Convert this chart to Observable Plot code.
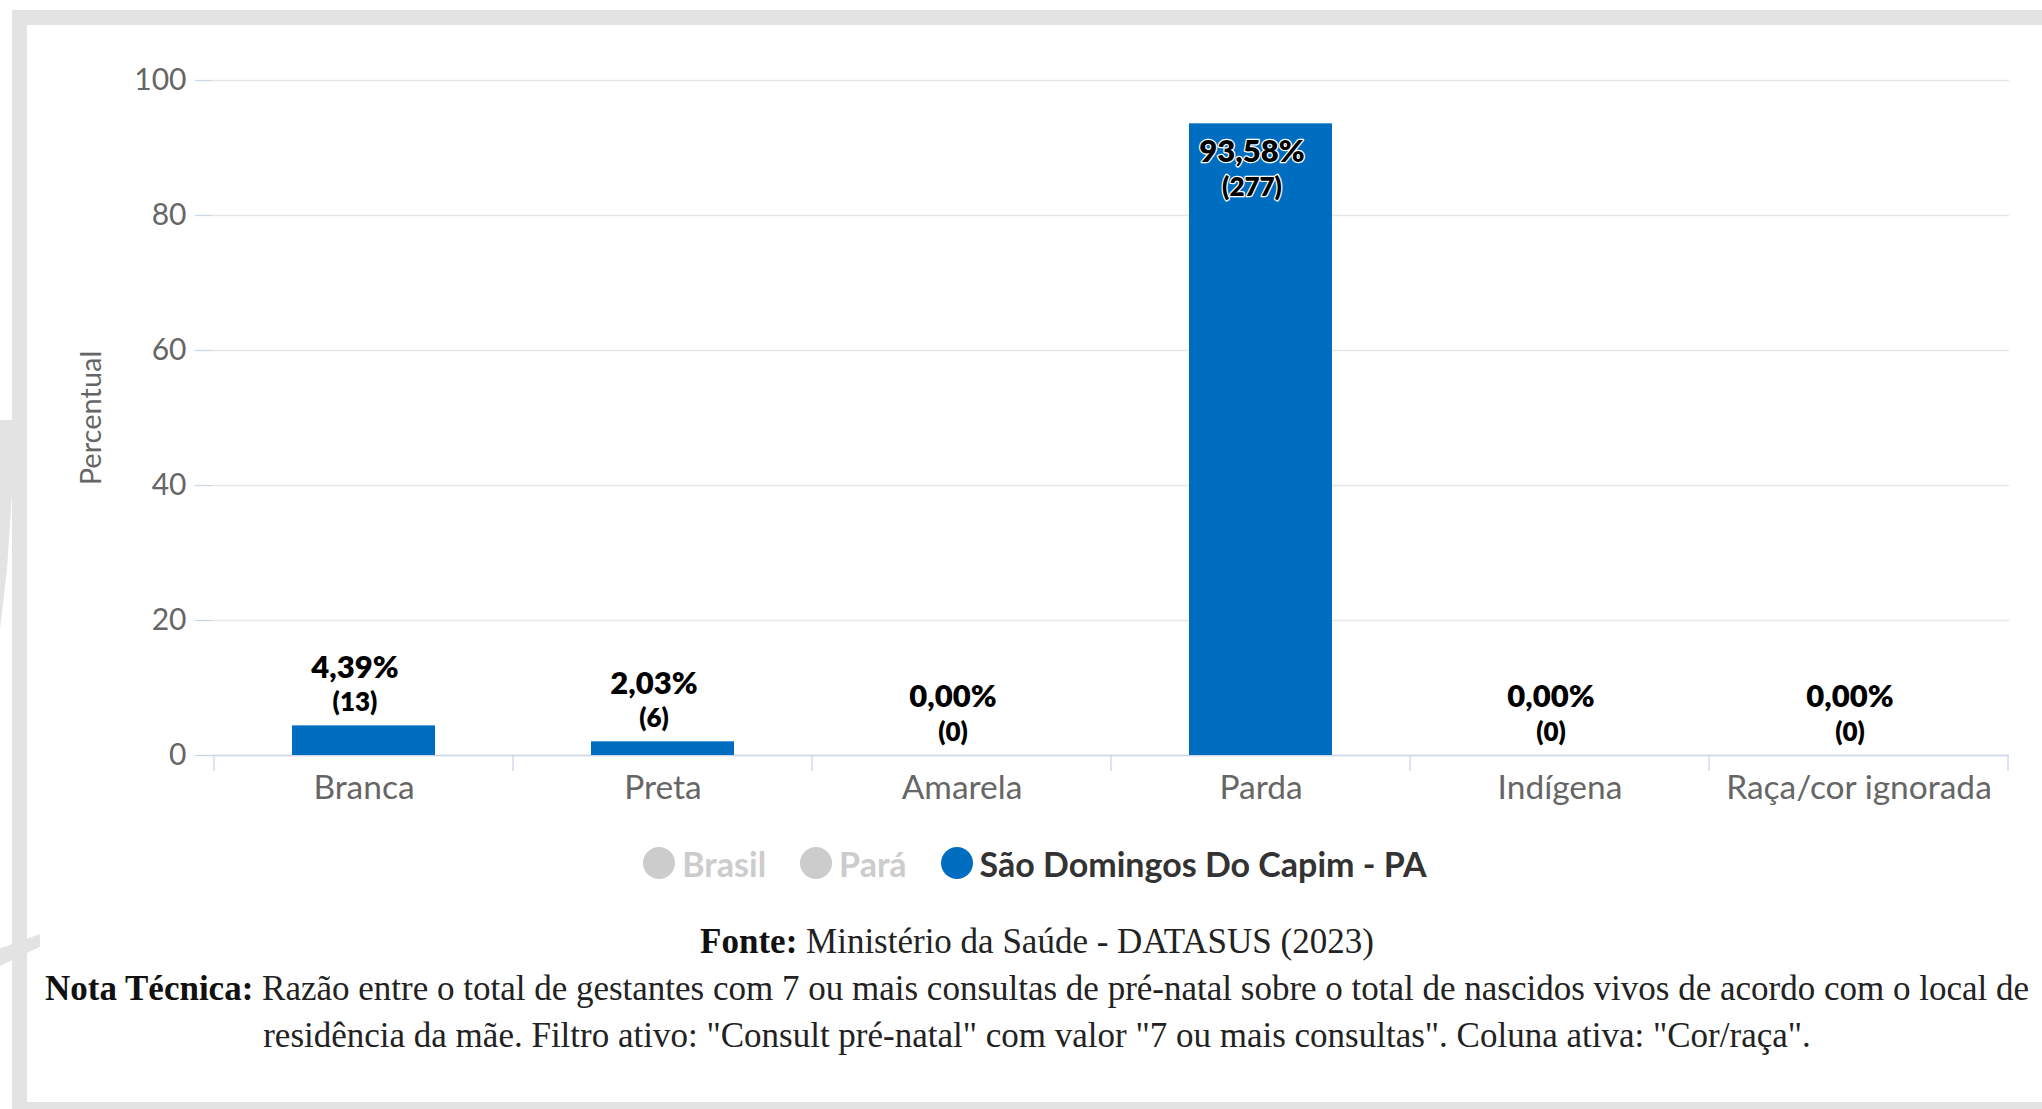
<!DOCTYPE html>
<html>
<head>
<meta charset="utf-8">
<script src="https://cdn.jsdelivr.net/npm/d3@7"></script>
<script src="https://cdn.jsdelivr.net/npm/@observablehq/plot@0.6"></script>
<style>
  html, body { margin: 0; padding: 0; background: #fff; }
  body { width: 2042px; height: 1109px; overflow: hidden; position: relative; font-family: Lato, sans-serif; }
  .frame { position: absolute; background: #e3e3e3; }
  #chart { position: absolute; left: 27px; top: 25px; }
  #legend { position: absolute; left: 0; width: 2070px; top: 845px; height: 36px; display: flex; justify-content: center; align-items: center; }
  .item { display: flex; align-items: center; margin: 0 17px; font-weight: 700; font-size: 34px; }
  .sym { width: 32px; height: 32px; border-radius: 50%; margin-right: 7px; }
  #caption { position: absolute; left: 20px; width: 2034px; top: 918px; text-align: center; font-family: "Liberation Serif", serif; font-size: 35px; line-height: 47px; color: #222; }
  #caption b { color: #111; }
</style>
</head>
<body>
<div class="frame" style="left:12px;top:10px;width:2030px;height:15px"></div>
<div class="frame" style="left:12px;top:10px;width:15px;height:1099px"></div>
<div class="frame" style="left:12px;top:1102px;width:2030px;height:7px"></div>
<div class="frame" style="left:0;top:420px;width:12px;height:210px;clip-path:polygon(0 0,100% 0,100% 35%,60% 70%,0 100%)"></div>
<div class="frame" style="left:0;top:934px;width:40px;height:32px;clip-path:polygon(0 45%,100% 0,100% 40%,0 100%)"></div>
<div id="chart"></div>
<div id="legend"></div>
<div id="caption"></div>
<script>
const categories = ["Branca", "Preta", "Amarela", "Parda", "Indígena", "Raça/cor ignorada"];
const percentages = [4.39, 2.03, 0.00, 93.58, 0.00, 0.00];
const counts = [13, 6, 0, 277, 0, 0];
const yTicks = [0, 20, 40, 60, 80, 100];
const seriesNames = ["Brasil", "Pará", "São Domingos Do Capim - PA"];
const seriesVisible = [false, false, true];
const sourceText = "Ministério da Saúde - DATASUS (2023)";
const noteText = "Razão entre o total de gestantes com 7 ou mais consultas de pré-natal sobre o total de nascidos vivos de acordo com o local de residência da mãe. Filtro ativo: \"Consult pré-natal\" com valor \"7 ou mais consultas\". Coluna ativa: \"Cor/raça\".";

const data = categories.map((c, i) => ({cat: c, pct: percentages[i], n: counts[i]}));
const fmtPct = v => v.toFixed(2).replace(".", ",") + "%";
const blue = "#006ec0";

const edgeTicks = (index, scales) => {
  const x = scales.x, y = scales.y;
  const bw = x(categories[1]) - x(categories[0]);
  const edges = categories.map(c => x(c)).concat([x(categories[categories.length - 1]) + bw]);
  const y0 = y(0);
  const g = d3.create("svg:g").attr("stroke", "#ccd6eb").attr("stroke-width", 1.3);
  for (const e of edges) g.append("line").attr("x1", e).attr("x2", e).attr("y1", y0).attr("y2", y0 + 16);
  return g.node();
};

const inside = d => d.pct > 85;
const labelStyle = {fill: "#000", stroke: "white", strokeWidth: 2.5, fontWeight: 800, fontSize: 31, dx: -9};

const chart = Plot.plot({
  width: 2015,
  height: 790,
  marginLeft: 185,
  marginRight: 33,
  marginTop: 55,
  marginBottom: 60,
  style: {fontFamily: "Lato, sans-serif", fontSize: "30px", color: "#666", background: "transparent", overflow: "visible"},
  x: {domain: categories, padding: 0, label: null},
  y: {domain: [0, 100], label: null},
  marks: [
    Plot.gridY(yTicks, {stroke: "#e6e6e6", strokeOpacity: 1, strokeWidth: 1.3}),
    Plot.axisY(yTicks, {tickSize: 17, stroke: "#ccd6eb", strokeWidth: 1.3, tickPadding: 9, fill: "#666", fontSize: 30, label: null}),
    Plot.axisX({tickSize: 0, tickPadding: 20, fill: "#666", fontSize: 33.5, label: null}),
    Plot.ruleY([0], {stroke: "#ccd6eb", strokeWidth: 1.3}),
    edgeTicks,
    Plot.barY(data, {x: "cat", y: "pct", fill: blue, insetLeft: 78, insetRight: 78}),
    Plot.text(data.filter(d => !inside(d)), {x: "cat", y: "pct", text: d => fmtPct(d.pct), dy: -58, ...labelStyle}),
    Plot.text(data.filter(d => !inside(d)), {x: "cat", y: "pct", text: d => `(${d.n})`, dy: -23, ...labelStyle, fontSize: 26}),
    Plot.text(data.filter(inside), {x: "cat", y: "pct", text: d => fmtPct(d.pct), dy: 28, ...labelStyle}),
    Plot.text(data.filter(inside), {x: "cat", y: "pct", text: d => `(${d.n})`, dy: 64, ...labelStyle, fontSize: 26}),
    Plot.text(["Percentual"], {frameAnchor: "left", textAnchor: "middle", dx: -121, rotate: -90, fill: "#666", fontSize: 29})
  ]
});
document.getElementById("chart").appendChild(chart);

const legend = document.getElementById("legend");
seriesNames.forEach((name, i) => {
  const item = document.createElement("div");
  item.className = "item";
  item.style.color = seriesVisible[i] ? "#333" : "#cccccc";
  const sym = document.createElement("span");
  sym.className = "sym";
  sym.style.background = seriesVisible[i] ? blue : "#cccccc";
  item.appendChild(sym);
  item.appendChild(document.createTextNode(name));
  legend.appendChild(item);
});

document.getElementById("caption").innerHTML =
  `<div><b>Fonte:</b> ${sourceText}</div><div><b>Nota Técnica:</b> ${noteText}</div>`;
</script>
</body>
</html>
